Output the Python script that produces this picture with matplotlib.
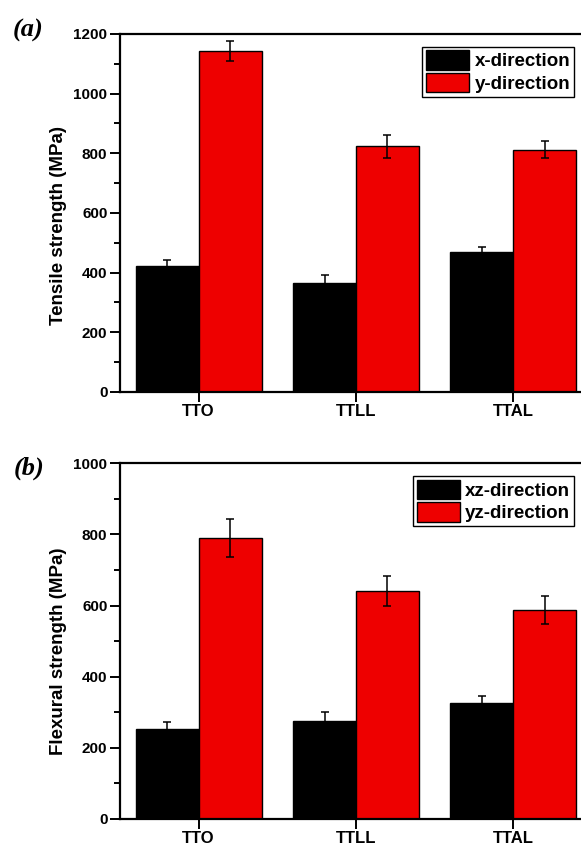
import numpy as np
import matplotlib
matplotlib.use("Agg")
import matplotlib.pyplot as plt
from matplotlib.ticker import MultipleLocator

plt.rcParams["font.family"] = ["Liberation Sans", "DejaVu Sans"]
plt.rcParams["font.weight"] = "bold"

samples = ["TTO", "TTLL", "TTAL"]

# (a) tensile strength
tens_x = [423, 365, 468]
tens_x_err = [18, 26, 18]
tens_y = [1143, 823, 812]
tens_y_err = [34, 40, 29]

# (b) flexural strength
flex_xz = [253, 276, 325]
flex_xz_err = [19, 25, 22]
flex_yz = [789, 641, 588]
flex_yz_err = [53, 42, 39]

RED = "#ee0000"
W = 0.4

fig = plt.figure(figsize=(5.81, 8.47), dpi=100)
ax_a = fig.add_axes([0.2065, 0.5372, 0.8124, 0.4227])
ax_b = fig.add_axes([0.2065, 0.0331, 0.8124, 0.4200])


def panel(ax, v1, e1, v2, e2, lab1, lab2, ylabel, ymax, major, label_y):
    x = np.arange(len(samples))
    ekw = dict(elinewidth=1.1, capthick=1.1, ecolor="black")
    ax.bar(x - W / 2, v1, W, color="black", edgecolor="black", linewidth=1,
           yerr=e1, capsize=2.8, error_kw=ekw, label=lab1)
    ax.bar(x + W / 2, v2, W, color=RED, edgecolor="black", linewidth=1,
           yerr=e2, capsize=2.8, error_kw=ekw, label=lab2)
    ax.set_xlim(-0.5, 2.5)
    ax.set_ylim(0, ymax)
    ax.set_xticks(x)
    ax.set_xticklabels(samples, fontsize=12, fontweight="bold")
    ax.yaxis.set_major_locator(MultipleLocator(major))
    ax.yaxis.set_minor_locator(MultipleLocator(major / 2))
    ax.tick_params(axis="y", which="major", direction="out", length=7, width=1.4,
                   labelsize=11, pad=2)
    ax.tick_params(axis="y", which="minor", direction="out", length=4.5, width=1.4)
    ax.tick_params(axis="x", which="major", direction="out", length=7, width=1.4, pad=2)
    ax.tick_params(right=False)
    for s in ["left", "bottom", "top"]:
        ax.spines[s].set_linewidth(1.6)
    ax.spines["right"].set_visible(False)
    ax.set_ylabel(ylabel, fontsize=13.5, fontweight="bold")
    ax.yaxis.set_label_coords(-0.112, label_y)
    leg = ax.legend(loc="upper right", bbox_to_anchor=(0.97, 0.975), fontsize=13.5,
                    frameon=True, fancybox=False, edgecolor="black", framealpha=1,
                    handlelength=2.3, handleheight=1.2, handletextpad=0.3,
                    borderpad=0.2, labelspacing=0.15, borderaxespad=0.2)
    leg.get_frame().set_linewidth(1.0)


panel(ax_a, tens_x, tens_x_err, tens_y, tens_y_err, "x-direction", "y-direction",
      "Tensile strength (MPa)", 1200, 200, 0.466)
panel(ax_b, flex_xz, flex_xz_err, flex_yz, flex_yz_err, "xz-direction", "yz-direction",
      "Flexural strength (MPa)", 1000, 200, 0.472)

fig.text(28 / 581, 1 - 30 / 847, "(a)", fontsize=19, family="Liberation Serif",
         fontweight="bold", style="italic", ha="center", va="center")
fig.text(29 / 581, 1 - 468 / 847, "(b)", fontsize=19, family="Liberation Serif",
         fontweight="bold", style="italic", ha="center", va="center")

fig.savefig("out.png", dpi=100)
